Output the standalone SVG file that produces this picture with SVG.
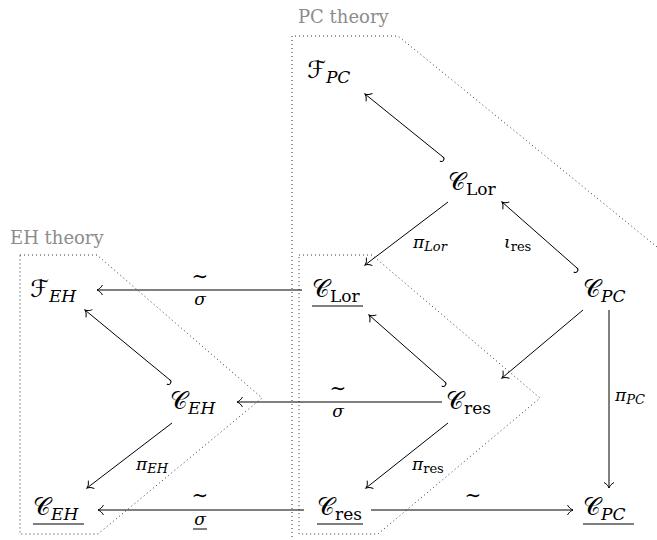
<svg xmlns="http://www.w3.org/2000/svg" width="657" height="540" viewBox="0 0 657 540">
<style>
text{font-family:"DejaVu Serif","Liberation Serif",serif;fill:#000}
.m{font-size:24px}
.cal{font-family:"DejaVu Serif","DejaVu Sans",serif}
.it{font-style:italic}
.sub{font-size:17px}
.lb{font-size:17px}
.lsub{font-size:13px}
.tl{font-size:20px}
.title{font-size:18px;fill:#8c8c8c}
.ar{stroke:#000;stroke-width:1;fill:none}
.box{stroke:#333;stroke-width:1;fill:none;stroke-dasharray:1 3}
.ul{stroke:#000;stroke-width:1}
</style>
<defs>
<marker id="to" markerUnits="userSpaceOnUse" markerWidth="14" markerHeight="14" refX="0" refY="0" orient="auto" overflow="visible">
<path d="M-5.5,-5 C-4,-2.2 -1.6,-0.5 0,0 C-1.6,0.5 -4,2.2 -5.5,5" fill="none" stroke="#000" stroke-width="1"/>
</marker>
<marker id="hook" markerUnits="userSpaceOnUse" markerWidth="14" markerHeight="14" refX="0" refY="0" orient="auto" overflow="visible">
<path d="M0,0 A2.5,2.5 0 0 1 0,-5" fill="none" stroke="#000" stroke-width="1"/>
</marker>
</defs>
<rect width="657" height="540" fill="#fff"/>
<g id="regions">
<path class="box" d="M292,545 L292,36 L398,36 L662,251"/>
<text class="title" x="298" y="23">PC theory</text>
<path class="box" d="M20,255 L97,255 L262,398 L98,534 L20,534 Z"/>
<text class="title" x="10" y="244">EH theory</text>
<path class="box" d="M299,255 L372,255 L540,398 L378,534 L299,534 Z"/>
</g>
<g id="n-FPC"><text class="m" x="307" y="78"><tspan class="cal">ℱ</tspan><tspan class="sub it" dy="5">PC</tspan></text></g>
<g id="n-CLor"><text class="m" x="448" y="190"><tspan class="cal">𝒞</tspan><tspan class="sub" dy="5">Lor</tspan></text></g>
<g id="n-CLor-ul"><text class="m" x="312" y="297"><tspan class="cal">𝒞</tspan><tspan class="sub" dy="5">Lor</tspan></text><line class="ul" x1="312" y1="306" x2="363" y2="306"/></g>
<g id="n-CPC"><text class="m" x="583" y="297"><tspan class="cal">𝒞</tspan><tspan class="sub it" dy="5">PC</tspan></text></g>
<g id="n-FEH"><text class="m" x="30" y="297"><tspan class="cal">ℱ</tspan><tspan class="sub it" dy="5">EH</tspan></text></g>
<g id="n-CEH"><text class="m" x="170" y="409"><tspan class="cal">𝒞</tspan><tspan class="sub it" dy="5">EH</tspan></text></g>
<g id="n-Cres"><text class="m" x="446" y="409"><tspan class="cal">𝒞</tspan><tspan class="sub" dy="5">res</tspan></text></g>
<g id="n-CEH-ul"><text class="m" x="33" y="515"><tspan class="cal">𝒞</tspan><tspan class="sub it" dy="5">EH</tspan></text><line class="ul" x1="33" y1="524" x2="84" y2="524"/></g>
<g id="n-Cres-ul"><text class="m" x="317" y="515"><tspan class="cal">𝒞</tspan><tspan class="sub" dy="5">res</tspan></text><line class="ul" x1="317" y1="524" x2="363" y2="524"/></g>
<g id="n-CPC-ul"><text class="m" x="583" y="515"><tspan class="cal">𝒞</tspan><tspan class="sub it" dy="5">PC</tspan></text><line class="ul" x1="583" y1="524" x2="634" y2="524"/></g>
<g id="connectors">
<path class="ar" d="M443,157 L365,94" marker-start="url(#hook)" marker-end="url(#to)"/>
<path class="ar" d="M448,202 L365,265" marker-end="url(#to)"/>
<path class="ar" d="M577,268 L502,202" marker-start="url(#hook)" marker-end="url(#to)"/>
<path class="ar" d="M302,290 L97,290" marker-end="url(#to)"/>
<path class="ar" d="M170,380 L85,310" marker-start="url(#hook)" marker-end="url(#to)"/>
<path class="ar" d="M445,382 L369,315" marker-start="url(#hook)" marker-end="url(#to)"/>
<path class="ar" d="M583,310 L502,378" marker-end="url(#to)"/>
<path class="ar" d="M609,310 L609,488" marker-end="url(#to)"/>
<path class="ar" d="M442,402 L237,402" marker-end="url(#to)"/>
<path class="ar" d="M172,423 L87,488" marker-end="url(#to)"/>
<path class="ar" d="M448,423 L366,488" marker-end="url(#to)"/>
<path class="ar" d="M304,510 L98,510" marker-end="url(#to)"/>
<path class="ar" d="M371,510 L573,510" marker-end="url(#to)"/>
</g>
<g id="labels">
<text class="lb" x="413" y="248"><tspan class="it">π</tspan><tspan class="lsub it" dy="3">Lor</tspan></text>
<text class="lb" x="504" y="248"><tspan class="it">ι</tspan><tspan class="lsub" dy="3">res</tspan></text>
<text class="lb" x="615" y="401"><tspan class="it">π</tspan><tspan class="lsub it" dy="3">PC</tspan></text>
<text class="lb" x="136" y="470"><tspan class="it">π</tspan><tspan class="lsub it" dy="3">EH</tspan></text>
<text class="lb" x="412" y="470"><tspan class="it">π</tspan><tspan class="lsub" dy="3">res</tspan></text>
<text class="tl" x="200" y="283" text-anchor="middle">∼</text>
<text class="lb it" x="200" y="305" text-anchor="middle">σ</text>
<text class="tl" x="338" y="395" text-anchor="middle">∼</text>
<text class="lb it" x="338" y="417" text-anchor="middle">σ</text>
<text class="tl" x="200" y="502" text-anchor="middle">∼</text>
<text class="lb it" x="200" y="525" text-anchor="middle">σ</text>
<line class="ul" x1="193" y1="529" x2="207" y2="529"/>
<text class="tl" x="473" y="502" text-anchor="middle">∼</text>
</g>
</svg>
